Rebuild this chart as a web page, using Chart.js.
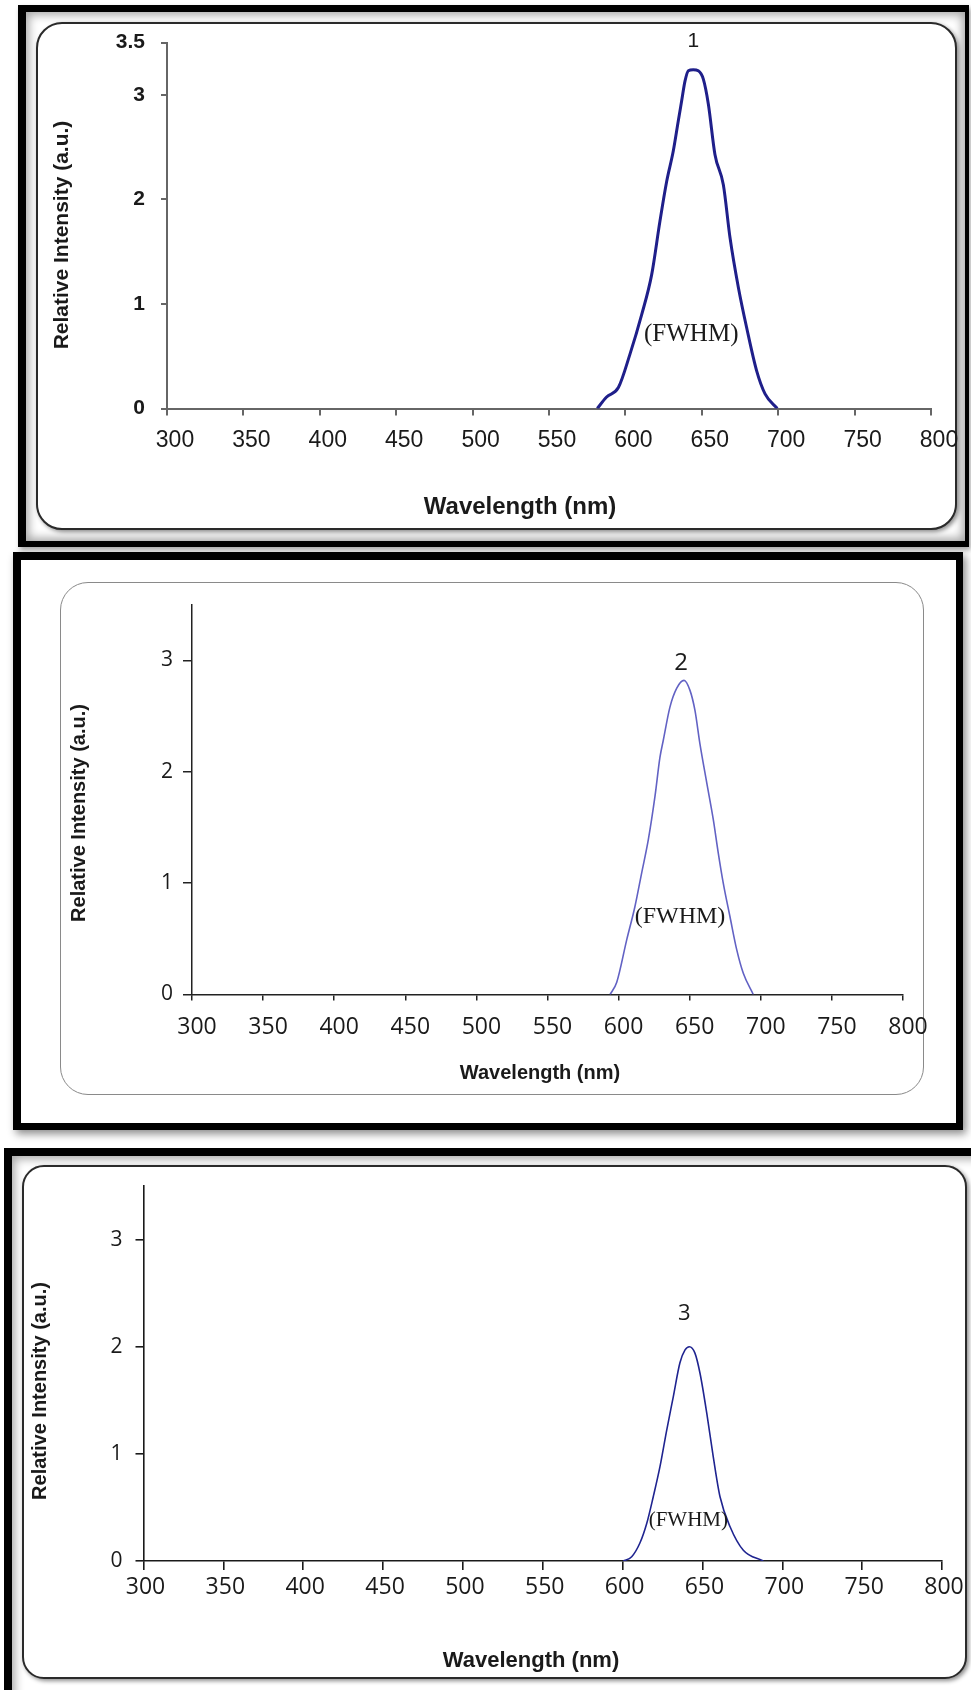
<!DOCTYPE html>
<html>
<head>
<meta charset="utf-8">
<script src="https://cdn.jsdelivr.net/npm/chart.js@4.4.1/dist/chart.umd.min.js"></script>
<style>
  html, body { margin: 0; padding: 0; background: #fff; }
  body { position: relative; width: 971px; height: 1690px; overflow: hidden; }
  .outer, .inner, canvas { position: absolute; box-sizing: border-box; }
  canvas { left: 0; z-index: 5; }
  #o1 { left: 18px; top: 5px; width: 951px; height: 542px; border: solid #000; border-width: 7px 4px 6px 8px;
        box-shadow: inset 0 0 10px 3px rgba(0,0,0,0.35), 2px 3px 5px rgba(0,0,0,0.35); }
  #i1 { left: 36px; top: 22px; width: 921px; height: 508px; border: 2px solid #2a2a2a; border-radius: 26px;
        background: #fff; box-shadow: 2px 2px 4px rgba(0,0,0,0.45); }
  #o2 { left: 13px; top: 552px; width: 950px; height: 578px; border: solid #000; border-width: 8px 7px 7px 8px;
        box-shadow: 3px 4px 8px rgba(0,0,0,0.45); }
  #i2 { left: 60px; top: 582px; width: 864px; height: 513px; border: 1.5px solid #8a8a8a; border-radius: 28px; background: #fff; }
  #o3 { left: 4px; top: 1148px; width: 990px; height: 560px; border: solid #000; border-width: 8px 0 0 8px;
        box-shadow: inset 0 0 10px 3px rgba(0,0,0,0.35); }
  #i3 { left: 22px; top: 1165px; width: 945px; height: 514px; border: 2px solid #2a2a2a; border-radius: 22px;
        background: #fff; box-shadow: 2px 2px 4px rgba(0,0,0,0.45); }
</style>
</head>
<body>
<div class="outer" id="o1"></div><div class="inner" id="i1"></div>
<div class="outer" id="o2"></div><div class="inner" id="i2"></div>
<div class="outer" id="o3"></div><div class="inner" id="i3"></div>
<canvas id="c1" width="971" height="548" style="top:0px"></canvas>
<canvas id="c2" width="971" height="590" style="top:548px"></canvas>
<canvas id="c3" width="971" height="552" style="top:1138px"></canvas>
<script>
// tick values
var xTickValues = [300, 350, 400, 450, 500, 550, 600, 650, 700, 750, 800];
var yTickValues1 = [0, 1, 2, 3, 3.5];
var yTickValues23 = [0, 1, 2, 3];

// spectrum 1
var wavelength1 = [581.6, 587.7, 595.4, 603.0, 610.7, 617.2, 622.6, 627.0, 631.3, 634.6, 636.8, 639.0, 641.2, 644.4,
	647.7, 651.0, 654.3, 658.6, 664.1, 668.5, 673.9, 679.4, 685.9, 691.4, 699.4];
var intensity1 = [0, 0.11, 0.20, 0.52, 0.90, 1.28, 1.79, 2.17, 2.46, 2.75, 2.94, 3.13, 3.23, 3.24,
	3.23, 3.15, 2.91, 2.43, 2.14, 1.63, 1.16, 0.77, 0.36, 0.14, 0];

// spectrum 2
var wavelength2 = [594.0, 598.7, 605.7, 611.5, 616.2, 620.9, 625.6, 629.1, 631.4, 636.1, 640.9, 646.0,
	650.2, 653.7, 657.2, 662.0, 666.6, 670.1, 673.6, 678.3, 683.1, 687.7, 694.7];
var intensity2 = [0, 0.11, 0.49, 0.79, 1.09, 1.39, 1.78, 2.13, 2.28, 2.58, 2.75, 2.82,
	2.73, 2.55, 2.25, 1.90, 1.57, 1.27, 1.00, 0.70, 0.40, 0.19, 0];

// spectrum 3
var wavelength3 = [600.4, 605.7, 610.9, 615.1, 619.2, 623.4, 627.6, 631.7, 635.9, 639.1, 641.8,
	645.3, 648.5, 652.7, 656.8, 661.0, 667.3, 675.6, 688.1];
var intensity3 = [0, 0.04, 0.17, 0.35, 0.60, 0.88, 1.22, 1.53, 1.85, 1.97, 2.00,
	1.94, 1.75, 1.38, 0.97, 0.60, 0.32, 0.10, 0];

var peakNames = ['1', '2', '3'];
var fwhmLevels = [0.71, 0.70, 0.38];

// draws the peak number, the (FWHM) note and both axis titles
var panelText = {
	id: 'panelText',
	afterDatasetsDraw: function(chart, args, opts) {
		var ctx = chart.ctx;
		var x = chart.scales.x, y = chart.scales.y;
		var pts = chart.data.datasets[0].data;
		var peak = pts[0];
		pts.forEach(function(p) { if (p.y > peak.y) peak = p; });
		var px = x.getPixelForValue(peak.x);
		var py = y.getPixelForValue(peak.y);
		ctx.save();
		ctx.fillStyle = '#1a1a1a';
		ctx.textAlign = 'center';
		ctx.textBaseline = 'middle';
		ctx.font = opts.numberFont;
		ctx.fillText(opts.name, px + opts.numberDx, py - opts.numberDy);
		ctx.font = opts.fwhmFont;
		ctx.fillText('(FWHM)', px + opts.fwhmDx, y.getPixelForValue(opts.fwhmLevel));
		ctx.font = opts.xTitleFont;
		ctx.fillText('Wavelength (nm)', opts.xTitle[0], opts.xTitle[1]);
		ctx.font = opts.yTitleFont;
		ctx.translate(opts.yTitle[0], opts.yTitle[1]);
		ctx.rotate(-Math.PI / 2);
		ctx.fillText('Relative Intensity (a.u.)', 0, 0);
		ctx.restore();
	}
};

function makePanel(id, wl, inten, yTicks, s) {
	var points = wl.map(function(w, i) { return {x: w, y: inten[i]}; });
	return new Chart(document.getElementById(id), {
		type: 'line',
		data: {
			datasets: [{
				data: points,
				borderColor: s.lineColor,
				borderWidth: s.lineWidth,
				pointRadius: 0,
				fill: false,
				cubicInterpolationMode: 'monotone'
			}]
		},
		plugins: [panelText],
		options: {
			responsive: false,
			animation: false,
			devicePixelRatio: 1,
			layout: { padding: { top: s.padTop, right: s.padRight, left: 0, bottom: 0 } },
			plugins: {
				legend: { display: false },
				tooltip: { enabled: false },
				panelText: s.text
			},
			scales: {
				x: {
					type: 'linear', min: 300, max: 800,
					afterBuildTicks: function(scale) { scale.ticks = xTickValues.map(function(v) { return {value: v}; }); },
					afterFit: function(scale) { scale.height = s.xHeight; },
					ticks: { autoSkip: false, maxRotation: 0, font: s.xFont, color: '#1a1a1a', padding: s.xPad, labelOffset: s.xLabelOffset },
					grid: { drawOnChartArea: false, drawTicks: true, tickLength: s.xTick, color: s.axisColor, lineWidth: s.axisWidth },
					border: { color: s.axisColor, width: s.axisWidth }
				},
				y: {
					type: 'linear', min: 0, max: 3.5,
					afterBuildTicks: function(scale) { scale.ticks = yTicks.map(function(v) { return {value: v}; }); },
					afterFit: function(scale) { scale.width = s.yWidth; },
					ticks: { autoSkip: false, font: s.yFont, color: '#1a1a1a', padding: s.yPad },
					grid: { drawOnChartArea: false, drawTicks: true, tickLength: s.yTick, color: s.axisColor, lineWidth: s.axisWidth },
					border: { color: s.axisColor, width: s.axisWidth }
				}
			}
		}
	});
}

makePanel('c1', wavelength1, intensity1, yTickValues1, {
	lineColor: '#1f1f8a', lineWidth: 3,
	padTop: 42.5, padRight: 40, xHeight: 139.5, yWidth: 167,
	xFont: {family: 'Liberation Sans', size: 23}, xPad: 11, xLabelOffset: 8, xTick: 7,
	yFont: {family: 'Liberation Sans', size: 21, weight: 'bold'}, yPad: 16, yTick: 6,
	axisColor: '#666', axisWidth: 2,
	text: {
		name: peakNames[0], numberFont: '21px "Liberation Sans"', numberDx: 0, numberDy: 28,
		fwhmFont: '25px "Liberation Serif"', fwhmDx: -2, fwhmLevel: fwhmLevels[0],
		xTitleFont: 'bold 24px "Liberation Sans"', xTitle: [520, 507],
		yTitleFont: 'bold 21px "Liberation Sans"', yTitle: [62, 235]
	}
});

makePanel('c2', wavelength2, intensity2, yTickValues23, {
	lineColor: '#6262c4', lineWidth: 1.6,
	padTop: 56.6, padRight: 68, xHeight: 143.5, yWidth: 192,
	xFont: {family: 'Open Sans', size: 23}, xPad: 13, xLabelOffset: 5, xTick: 6,
	yFont: {family: 'Open Sans', size: 21}, yPad: 10, yTick: 9,
	axisColor: '#222', axisWidth: 1.5,
	text: {
		name: peakNames[1], numberFont: '24px "Open Sans"', numberDx: -3, numberDy: 17,
		fwhmFont: '24px "Liberation Serif"', fwhmDx: -4, fwhmLevel: fwhmLevels[1],
		xTitleFont: 'bold 20px "Liberation Sans"', xTitle: [540, 525],
		yTitleFont: 'bold 20px "Liberation Sans"', yTitle: [79, 265]
	}
});

makePanel('c3', wavelength3, intensity3, yTickValues23, {
	lineColor: '#1f2490', lineWidth: 1.6,
	padTop: 48, padRight: 29, xHeight: 129, yWidth: 143.5,
	xFont: {family: 'Open Sans', size: 23}, xPad: 4, xLabelOffset: 2, xTick: 9,
	yFont: {family: 'Open Sans', size: 21}, yPad: 13, yTick: 8,
	axisColor: '#1a1a1a', axisWidth: 1.6,
	text: {
		name: peakNames[2], numberFont: '22px "Open Sans"', numberDx: -5, numberDy: 33,
		fwhmFont: '21px "Liberation Serif"', fwhmDx: -1, fwhmLevel: fwhmLevels[2],
		xTitleFont: 'bold 22px "Liberation Sans"', xTitle: [531, 523],
		yTitleFont: 'bold 20px "Liberation Sans"', yTitle: [40, 253]
	}
});
</script>
</body>
</html>
